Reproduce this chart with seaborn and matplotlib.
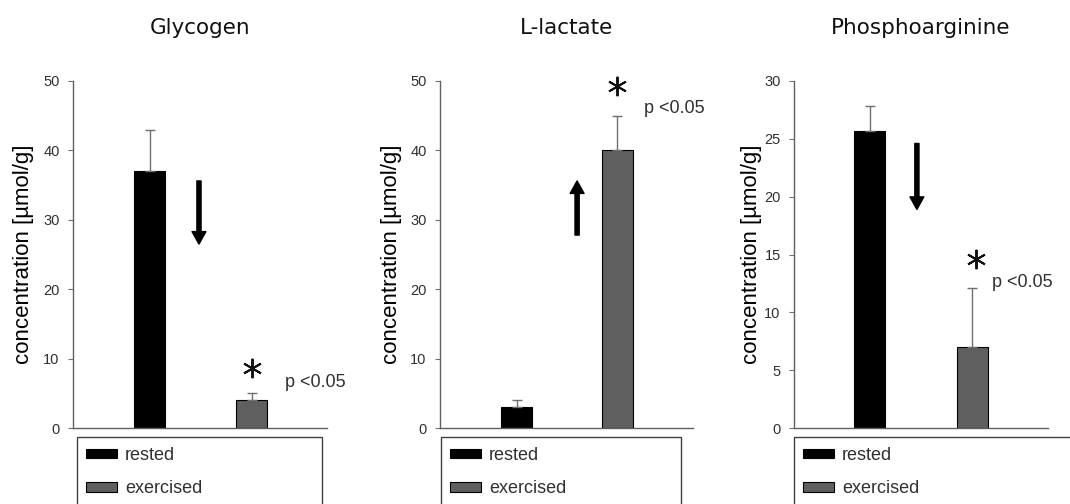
import matplotlib
matplotlib.use("Agg")
import matplotlib.pyplot as plt
import matplotlib.patches as mpatches
import seaborn as sns
import pandas as pd

# ---- data ----
titles = ["Glycogen", "L-lactate", "Phosphoarginine"]
states = ["rested", "exercised"]
rested = [37.0, 3.0, 25.7]
exercised = [4.0, 40.0, 7.0]
rested_err = [6.0, 1.0, 2.1]
exercised_err = [1.0, 5.0, 5.1]
y_max = [50, 50, 30]
y_step = [10, 10, 5]
# arrow (x, tail y, head y), star (x, y), p-text (x, y)
arrows = [(0.485, 35.6, 26.5), (0.60, 27.8, 35.6), (0.46, 24.6, 18.9)]
stars = [(1.0, 8.6), (1.0, 49.3), (1.04, 14.6)]
p_text = [(1.33, 6.5), (1.26, 46.1), (1.19, 12.6)]
p_label = "p <0.05"

colors = {"rested": "#000000", "exercised": "#5f5f5f"}

sns.set_theme(style="white")
plt.rcParams["font.family"] = ["Liberation Sans", "DejaVu Sans"]

fig = plt.figure(figsize=(10.7, 5.04), dpi=100)
W, H = 1070, 504

# pixel layout of the three panels (left, right) and x-limits
panels = [(73, 327, (-0.75, 1.74)), (440, 693, (-0.76, 1.75)), (794, 1048, (-0.74, 1.74))]
legend_boxes = [(77, 322), (441, 681), (794, 1075)]
label_x = [-0.155, -0.15, -0.125]

ax_bottom, ax_top = 428, 81

for i, (l, r, xl) in enumerate(panels):
    ax = fig.add_axes([l / W, 1 - ax_bottom / H, (r - l) / W, (ax_bottom - ax_top) / H])
    df = pd.DataFrame({"state": states, "value": [rested[i], exercised[i]]})
    sns.barplot(data=df, x="state", y="value", hue="state", palette=colors,
                width=0.305, edgecolor="black", linewidth=0.8, legend=False, ax=ax)
    ax.errorbar([0, 1], df["value"], yerr=[[0, 0], [rested_err[i], exercised_err[i]]],
                fmt="none", ecolor="#707070", elinewidth=1.0, capsize=3.5, capthick=1.0)

    ax.set_xlim(*xl)
    ax.set_ylim(0, y_max[i])
    ax.set_yticks(range(0, y_max[i] + 1, y_step[i]))
    ax.set_xticks([])
    ax.set_xlabel("")
    ax.set_ylabel("concentration [µmol/g]", fontsize=16, color="black")
    ax.yaxis.set_label_coords(label_x[i], 0.5)
    ax.tick_params(axis="y", left=True, length=3.6, width=0.8, color="#707070",
                   pad=6, labelsize=10.5, labelcolor="#303030")
    for s in ["top", "right"]:
        ax.spines[s].set_visible(False)
    for s in ["left", "bottom"]:
        ax.spines[s].set_color("#606060")
        ax.spines[s].set_linewidth(1.0)
    ax.patch.set_alpha(0)

    ax.set_title(titles[i], fontsize=15.5, family="DejaVu Sans", pad=34, color="#111111")

    ax_x, tail, head = arrows[i]
    ax.annotate("", xy=(ax_x, head), xytext=(ax_x, tail),
                arrowprops=dict(width=3.0, headwidth=10, headlength=9, color="black", shrink=0))
    ax.plot(*stars[i], marker=(6, 2, 0), markersize=14, mew=1.4, color="#111111", clip_on=False)
    ax.text(*p_text[i], p_label, fontsize=13, color="#303030", ha="left", va="center")

    # legend box below each panel
    bl, br = legend_boxes[i]
    fig.add_artist(mpatches.Rectangle((bl / W, -0.05), (br - bl) / W, 1 - 437 / H + 0.05,
                                      transform=fig.transFigure, fill=False,
                                      edgecolor="#404040", linewidth=1.0))
    handles = [mpatches.Patch(facecolor=colors[s], edgecolor="black", linewidth=0.8, label=s)
               for s in states]
    fig.legend(handles=handles, loc="upper left", bbox_to_anchor=((bl + 9) / W, 1 - 447 / H),
               bbox_transform=fig.transFigure, frameon=False, fontsize=13,
               handlelength=1.7, handleheight=0.45, handletextpad=0.45,
               labelspacing=0.9, borderpad=0, borderaxespad=0, labelcolor="#303030")

fig.savefig("out.png", dpi=100)
